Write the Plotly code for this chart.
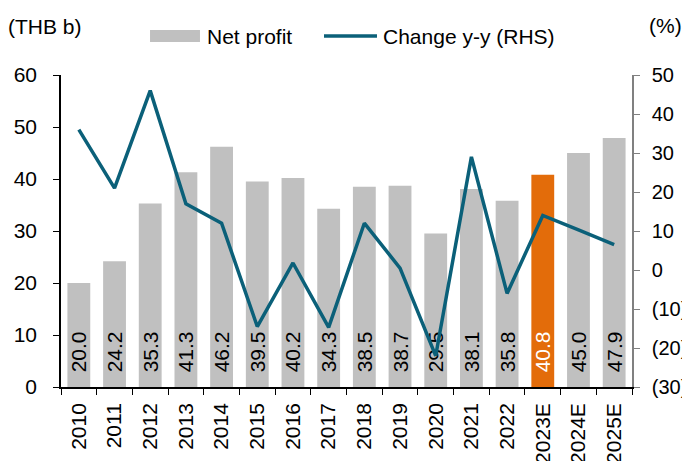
import plotly.graph_objects as go
from plotly.subplots import make_subplots

years = ["2010", "2011", "2012", "2013", "2014", "2015", "2016", "2017",
         "2018", "2019", "2020", "2021", "2022", "2023E", "2024E", "2025E"]
net_profit = [20.0, 24.2, 35.3, 41.3, 46.2, 39.5, 40.2, 34.3,
              38.5, 38.7, 29.5, 38.1, 35.8, 40.8, 45.0, 47.9]
change_yy = [36, 21, 46, 17, 12, -14.5, 1.8, -14.7,
             12, 0.5, -22, 29, -6, 14, 10.3, 6.5]
right_ticks = [-30, -20, -10, 0, 10, 20, 30, 40, 50]
right_labels = ["(30)", "(20)", "(10)", "0", "10", "20", "30", "40", "50"]

GREY = "#C0C0C0"
ORANGE = "#E36C0A"
TEAL = "#0B6079"
FONT = "Liberation Sans, Arial, sans-serif"
FS = 21

bar_colors = [ORANGE if y == "2023E" else GREY for y in years]
text_colors = ["white" if y == "2023E" else "black" for y in years]

fig = make_subplots(specs=[[{"secondary_y": True}]])
fig.add_trace(go.Bar(
    x=years, y=net_profit, name="Net profit",
    marker=dict(color=bar_colors, line=dict(width=0)),
    text=["\u00a0\u00a0" + f"{v:.1f}" for v in net_profit],
    textposition="inside", insidetextanchor="start", textangle=-90,
    textfont=dict(family=FONT, size=FS, color=text_colors),
    constraintext="none", width=0.64, showlegend=False,
), secondary_y=False)
fig.add_trace(go.Scatter(
    x=years, y=change_yy, name="Change y-y (RHS)", mode="lines",
    line=dict(color=TEAL, width=3.5), showlegend=False,
), secondary_y=True)

# legend drawn manually (wide swatches as in the reference)
legend_shapes = [
    dict(type="rect", xref="paper", yref="paper", x0=0.1559, x1=0.2434,
         y0=1.1058, y1=1.1442, fillcolor=GREY, line=dict(width=0)),
    dict(type="line", xref="paper", yref="paper", x0=0.4606, x1=0.5534,
         y0=1.125, y1=1.125, line=dict(color=TEAL, width=3.5)),
]

fig.update_layout(
    width=682, height=453,
    margin=dict(l=53, r=58, t=67, b=74, autoexpand=False),
    paper_bgcolor="white", plot_bgcolor="white",
    font=dict(family=FONT, size=FS, color="black"),
    showlegend=False,
    shapes=legend_shapes,
    annotations=[
        dict(text="(THB b)", xref="paper", yref="paper", x=-0.096, y=1.157,
             xanchor="left", yanchor="middle", showarrow=False, font=dict(size=FS)),
        dict(text="(%)", xref="paper", yref="paper", x=1.0578, y=1.160,
             xanchor="center", yanchor="middle", showarrow=False, font=dict(size=FS)),
        dict(text="Net profit", xref="paper", yref="paper", x=0.2522, y=1.122,
             xanchor="left", yanchor="middle", showarrow=False, font=dict(size=FS)),
        dict(text="Change y-y (RHS)", xref="paper", yref="paper", x=0.5604, y=1.122,
             xanchor="left", yanchor="middle", showarrow=False, font=dict(size=FS)),
    ],
)
fig.update_xaxes(
    type="category", domain=[0, 1], showline=True, linecolor="black", linewidth=1.5,
    ticks="outside", tickson="boundaries", ticklen=6, tickcolor="black",
    tickangle=-90, showgrid=False, tickfont=dict(size=FS), automargin=False,
    ticklabelstandoff=6,
)
fig.update_yaxes(
    range=[0, 60], dtick=10, showline=True, linecolor="black", linewidth=1.5,
    ticks="outside", ticklen=6, tickcolor="black", showgrid=False, zeroline=False,
    tickfont=dict(size=FS), secondary_y=False, automargin=False,
    ticklabelstandoff=12,
)
fig.update_yaxes(
    range=[-30, 50], tickvals=right_ticks, ticktext=right_labels,
    showline=True, linecolor="#808080", linewidth=1.5,
    ticks="outside", ticklen=6, tickcolor="#808080", showgrid=False, zeroline=False,
    tickfont=dict(size=20), secondary_y=True, automargin=False,
    ticklabelstandoff=8,
)

fig.write_html("out.html")
